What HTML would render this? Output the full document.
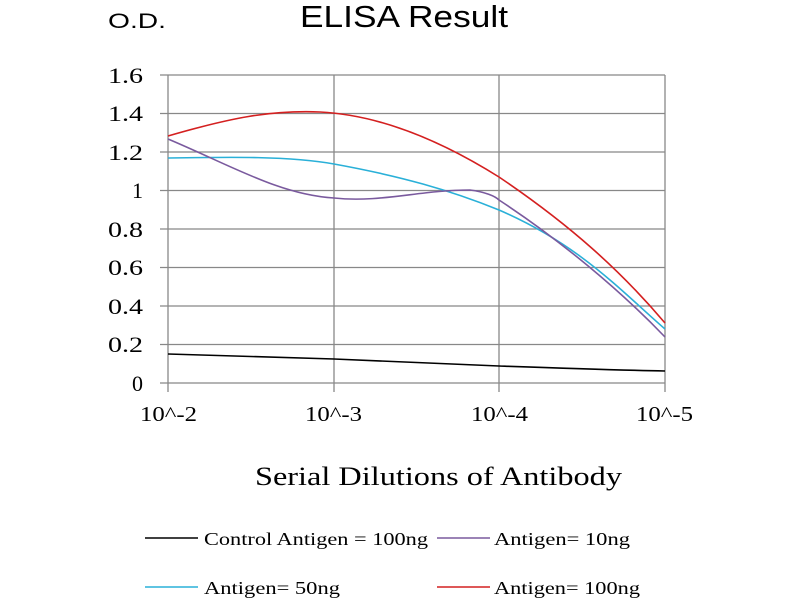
<!DOCTYPE html>
<html><head><style>body{margin:0;background:#fff}svg text{font-family:"Liberation Serif",serif}</style></head>
<body>
<svg width="800" height="600" xmlns="http://www.w3.org/2000/svg">
<rect width="800" height="600" fill="#fff"/>
<text x="108" y="28" font-size="21" textLength="58" lengthAdjust="spacingAndGlyphs" style="font-family:'Liberation Sans',sans-serif">O.D.</text>
<text x="300" y="27" font-size="31" textLength="208" lengthAdjust="spacingAndGlyphs" style="font-family:'Liberation Sans',sans-serif">ELISA Result</text>
<g stroke="#888" stroke-width="1.3">
<line x1="160" y1="75" x2="665" y2="75"/><line x1="160" y1="113.5" x2="665" y2="113.5"/>
<line x1="160" y1="152" x2="665" y2="152"/><line x1="160" y1="190.5" x2="665" y2="190.5"/>
<line x1="160" y1="229" x2="665" y2="229"/><line x1="160" y1="267.5" x2="665" y2="267.5"/>
<line x1="160" y1="306" x2="665" y2="306"/><line x1="160" y1="344.5" x2="665" y2="344.5"/>
<line x1="160" y1="383" x2="665" y2="383"/>
<line x1="168" y1="75" x2="168" y2="392"/><line x1="334" y1="75" x2="334" y2="392"/>
<line x1="499" y1="75" x2="499" y2="392"/><line x1="665" y1="75" x2="665" y2="392"/>
</g>
<g font-size="22" text-anchor="end">
<text x="143" y="83" textLength="35" lengthAdjust="spacingAndGlyphs">1.6</text><text x="143" y="121" textLength="35" lengthAdjust="spacingAndGlyphs">1.4</text><text x="143" y="160" textLength="35" lengthAdjust="spacingAndGlyphs">1.2</text>
<text x="143" y="198">1</text><text x="143" y="237" textLength="35" lengthAdjust="spacingAndGlyphs">0.8</text><text x="143" y="275" textLength="35" lengthAdjust="spacingAndGlyphs">0.6</text>
<text x="143" y="314" textLength="35" lengthAdjust="spacingAndGlyphs">0.4</text><text x="143" y="352" textLength="35" lengthAdjust="spacingAndGlyphs">0.2</text><text x="143" y="391">0</text>
</g>
<g font-size="21">
<text x="140" y="421" textLength="57" lengthAdjust="spacingAndGlyphs">10^-2</text><text x="305" y="421" textLength="57" lengthAdjust="spacingAndGlyphs">10^-3</text>
<text x="471" y="421" textLength="57" lengthAdjust="spacingAndGlyphs">10^-4</text><text x="636" y="421" textLength="57" lengthAdjust="spacingAndGlyphs">10^-5</text>
</g>
<text x="255" y="485" font-size="26" textLength="367" lengthAdjust="spacingAndGlyphs">Serial Dilutions of Antibody</text>
<g fill="none" stroke-width="1.6">
<path d="M168,354 C223,356 279,357 334,359 C389,361 444,364 499,366 C555,368 610,370 665,371" stroke="#000"/>
<path d="M168,158 C230,157 290,156 334,164 C400,176 450,190 499,210 C580,245 620,290 665,329" stroke="#2ab0d8"/>
<path d="M168,139 C230,165 280,195 334,198 C380,203 420,190 470,190 C485,192 495,196 499,200 C560,240 620,290 665,337" stroke="#7a5a9e"/>
<path d="M168,136 C230,118 270,110 320,112 C380,115 440,140 499,177 C570,225 620,270 665,323" stroke="#d42020"/>
</g>
<g stroke-width="1.6">
<line x1="145" y1="538" x2="198" y2="538" stroke="#000"/>
<line x1="437" y1="538" x2="490" y2="538" stroke="#7a5a9e"/>
<line x1="145" y1="587" x2="198" y2="587" stroke="#2ab0d8"/>
<line x1="437" y1="587" x2="490" y2="587" stroke="#d42020"/>
</g>
<g font-size="18">
<text x="204" y="545" textLength="224" lengthAdjust="spacingAndGlyphs">Control Antigen = 100ng</text>
<text x="494" y="545" textLength="136" lengthAdjust="spacingAndGlyphs">Antigen= 10ng</text>
<text x="204" y="594" textLength="136" lengthAdjust="spacingAndGlyphs">Antigen= 50ng</text>
<text x="494" y="594" textLength="146" lengthAdjust="spacingAndGlyphs">Antigen= 100ng</text>
</g>
</svg>
</body></html>
